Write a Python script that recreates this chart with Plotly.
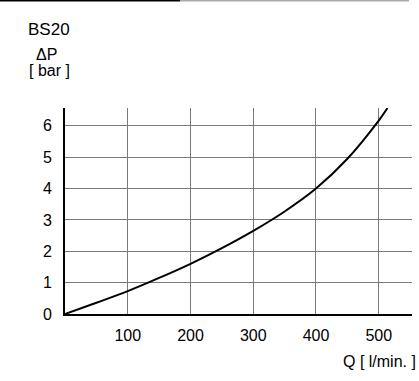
import plotly.graph_objects as go

flow_q = [0, 50, 100, 150, 200, 250, 300, 350, 400, 450, 500, 514]
dp_bar = [0, 0.36, 0.73, 1.15, 1.6, 2.1, 2.65, 3.27, 4.0, 4.95, 6.17, 6.57]
x_ticks = [100, 200, 300, 400, 500]
y_ticks = [0, 1, 2, 3, 4, 5, 6]

FONT = "Liberation Sans, Arial, sans-serif"

W, H = 419, 381
L, R, T, B = 65, 7, 108, 67
PW, PH = W - L - R, H - T - B


def px(xp):
    return (xp - L) / PW


def py(yp):
    return (H - B - yp) / PH


fig = go.Figure()
fig.add_trace(go.Scatter(x=flow_q, y=dp_bar, mode="lines",
                         line=dict(color="black", width=2, shape="spline", smoothing=1),
                         hoverinfo="skip", cliponaxis=True))

axis_common = dict(showgrid=True, gridcolor="#7a7a7a", gridwidth=1,
                   showline=True, linecolor="black", linewidth=2, zeroline=False,
                   ticks="", automargin=False, tickfont=dict(size=16, family=FONT, color="black"))

fig.update_layout(
    template="none",
    width=W, height=H,
    margin=dict(l=L, r=R, t=T, b=B, pad=0),
    paper_bgcolor="white", plot_bgcolor="white",
    showlegend=False,
    font=dict(family=FONT, size=16, color="black"),
    xaxis=dict(range=[0, 553], tickvals=x_ticks, ticklabelstandoff=6, **axis_common),
    yaxis=dict(range=[0, 6.57], tickvals=y_ticks, ticklabelstandoff=8, **axis_common),
    annotations=[
        dict(text="BS20", x=px(49), y=py(30), font=dict(size=17)),
        dict(text="ΔP", x=px(46), y=py(55), font=dict(size=16)),
        dict(text="[ bar ]", x=px(49), y=py(70), font=dict(size=16)),
        dict(text="Q [ l/min. ]", x=px(418), y=py(361), font=dict(size=16), xanchor="right"),
    ],
)
fig.update_annotations(xref="paper", yref="paper", showarrow=False, yanchor="middle")
for a in fig.layout.annotations:
    if a.xanchor is None:
        a.xanchor = "center"

fig.add_shape(type="line", xref="paper", yref="paper",
              x0=px(0), x1=px(180), y0=py(0.5), y1=py(0.5),
              line=dict(color="black", width=2))
fig.add_shape(type="line", xref="paper", yref="paper",
              x0=px(180), x1=px(409), y0=py(0.5), y1=py(0.5),
              line=dict(color="#aaaaaa", width=2))

fig.write_html("out.html",
               config={"displayModeBar": False, "staticPlot": True},
               post_script="document.body.style.margin='0';document.body.style.overflow='hidden';")
